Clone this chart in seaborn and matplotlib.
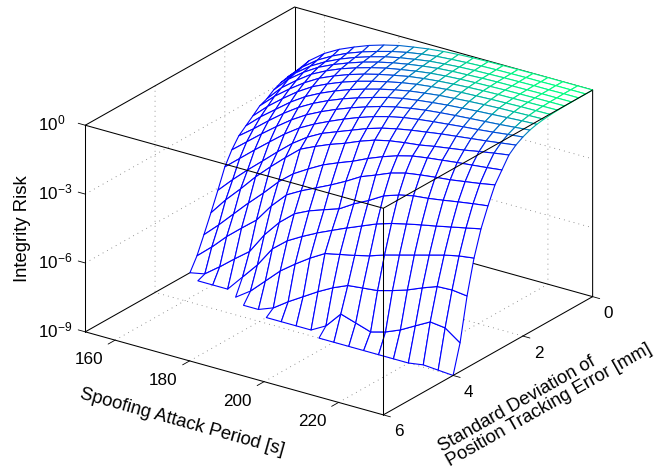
#!/usr/bin/env python3
"""Integrity risk mesh over spoofing attack period and tracking error."""
import matplotlib

matplotlib.use("Agg")
import matplotlib.pyplot as plt
import numpy as np
import seaborn as sns
from mpl_toolkits.mplot3d import proj3d
from mpl_toolkits.mplot3d.art3d import Poly3DCollection

nan = float("nan")

PERIOD = [152, 156, 160, 164, 168, 172, 176, 180, 184, 188, 192, 196, 200, 204, 208, 212, 216, 220, 224, 228, 232]
STD = [0.0, 0.2, 0.4, 0.6, 0.8, 1.0, 1.2, 1.4, 1.6, 1.8, 2.0, 2.2, 2.4, 2.6, 2.8, 3.0, 3.2, 3.4, 3.6, 3.8, 4.0]

# log10 of the integrity risk, one list per standard deviation value
R00 = [-2.84, -2.15, -1.66, -1.3, -1.02, -.77, -.57, -.41, -.3, -.2, -.13, -.08, -.05, -.03, -.02, -.01, -.005, 0, 0, 0, 0]
R02 = [-2.88, -2.26, -1.78, -1.42, -1.12, -.88, -.68, -.5, -.36, -.25, -.17, -.12, -.08, -.05, -.03, -.02, -.01, -.01, 0, 0, 0]
R04 = [-2.96, -2.35, -1.87, -1.5, -1.2, -.95, -.74, -.56, -.42, -.31, -.21, -.15, -.1, -.07, -.05, -.03, -.02, -.01, -.01, 0, 0]
R06 = [-3.1, -2.45, -1.97, -1.57, -1.27, -1.02, -.8, -.62, -.47, -.35, -.25, -.17, -.12, -.09, -.06, -.04, -.03, -.02, -.01, -.01, -.005]
R08 = [-3.32, -2.65, -2.15, -1.7, -1.37, -1.1, -.88, -.69, -.53, -.41, -.3, -.21, -.15, -.11, -.08, -.06, -.04, -.03, -.02, -.015, -.01]
R10 = [-3.45, -2.85, -2.35, -1.9, -1.52, -1.24, -1.0, -.8, -.63, -.49, -.36, -.27, -.2, -.15, -.11, -.08, -.06, -.05, -.04, -.03, -.02]
R12 = [-3.72, -3.12, -2.6, -2.12, -1.72, -1.42, -1.16, -.94, -.76, -.6, -.46, -.35, -.27, -.21, -.16, -.13, -.1, -.08, -.06, -.05, -.04]
R14 = [-3.98, -3.4, -2.9, -2.4, -1.98, -1.65, -1.37, -1.13, -.93, -.75, -.6, -.47, -.38, -.3, -.25, -.2, -.16, -.13, -.11, -.09, -.07]
R16 = [-4.24, -3.75, -3.22, -2.72, -2.28, -1.92, -1.62, -1.36, -1.14, -.94, -.76, -.62, -.52, -.44, -.37, -.32, -.27, -.23, -.19, -.15, -.12]
R18 = [-4.68, -4.15, -3.62, -3.12, -2.65, -2.25, -1.93, -1.65, -1.4, -1.18, -.98, -.82, -.7, -.6, -.53, -.47, -.42, -.37, -.32, -.26, -.2]
R20 = [-5.25, -4.7, -4.15, -3.62, -3.1, -2.65, -2.3, -2.0, -1.72, -1.47, -1.25, -1.07, -.93, -.83, -.75, -.68, -.61, -.55, -.48, -.4, -.33]
R22 = [-6.1, -5.45, -4.85, -4.28, -3.7, -3.15, -2.7, -2.35, -2.1, -1.85, -1.6, -1.4, -1.25, -1.13, -1.03, -.93, -.85, -.77, -.69, -.6, -.51]
R24 = [-6.91, -6.16, -5.5, -4.8, -4.18, -3.6, -3.05, -2.75, -2.48, -2.25, -1.98, -1.75, -1.6, -1.5, -1.42, -1.3, -1.2, -1.1, -.98, -.87, -.77]
R26 = [-7.69, -7.08, -6.42, -5.76, -5.14, -4.48, -3.95, -3.56, -3.2, -2.93, -2.68, -2.38, -2.12, -1.9, -1.73, -1.63, -1.55, -1.47, -1.4, -1.33, -1.25]
R28 = [-8.44, -7.87, -7.23, -6.68, -6.15, -5.35, -4.7, -4.34, -4.03, -3.72, -3.38, -3.0, -2.75, -2.48, -2.3, -2.2, -2.12, -2.05, -1.95, -1.85, -1.73]
R30 = [-9, -8.87, -8.38, -7.85, -7.35, -6.44, -5.72, -5.17, -4.86, -4.63, -4.41, -4.01, -3.68, -3.3, -3.08, -2.94, -2.87, -2.77, -2.66, -2.56, -2.47]
R32 = [nan, -9, -9, -9, -8.29, -7.58, -6.7, -6.17, -5.8, -5.47, -5.18, -4.89, -4.62, -4.35, -4.15, -3.99, -3.85, -3.72, -3.58, -3.44, -3.3]
R34 = [nan, nan, nan, nan, -9, -8.55, -7.93, -7.31, -6.83, -6.39, -6.01, -5.87, -5.73, -5.57, -5.35, -5.17, -4.99, -4.81, -4.63, -4.49, -4.4]
R36 = [nan, nan, nan, nan, nan, -9, -9, -8.75, -8.3, -7.9, -7.5, -7.15, -6.87, -6.8, -6.73, -6.55, -6.34, -6.07, -5.83, -5.8, -5.88]
R38 = [nan, nan, nan, nan, nan, nan, nan, -9, -9, -9, -9, -8.64, -7.94, -8.15, -8.36, -8.18, -7.91, -7.55, -7.2, -7.28, -7.75]
R40 = [nan, nan, nan, nan, nan, nan, nan, nan, nan, nan, nan, -9, -9, -9, -9, -9, -9, -9, -8.9, -8.95, -9]

PERIOD_TICKS = [160, 180, 200, 220]
STD_TICKS = [0, 2, 4, 6]
LOG_RISK_TICKS = [-9, -6, -3, 0]
XLIM = (152, 232)
YLIM = (0, 6)
ZLIM = (-9, 0)


def main() -> None:
    sns.set_theme(style="white")
    plt.rcParams["font.family"] = ["Liberation Sans", "DejaVu Sans"]
    plt.rcParams["mathtext.default"] = "regular"
    winter = sns.color_palette("winter", as_cmap=True)

    log_risk = np.array([R00, R02, R04, R06, R08, R10, R12, R14, R16, R18, R20,
                         R22, R24, R26, R28, R30, R32, R34, R36, R38, R40])

    fig = plt.figure(figsize=(6.67, 4.73), dpi=100)
    # 3D box placed so the projected corners land where the reference has them
    side = 700
    ax = fig.add_axes([-20.5 / 667, -97.4 / 473, side / 667, side / 473],
                      projection="3d", computed_zorder=False)
    ax.set_proj_type("ortho")
    ax.view_init(elev=23.37, azim=-54.92)
    ax.set_box_aspect((1, 1, 0.618), zoom=0.7795)
    ax.set_axis_off()
    ax.set_xlim(*XLIM)
    ax.set_ylim(YLIM[1], YLIM[0])
    ax.set_zlim(*ZLIM)

    def label3d(x, y, z, text, **kw):
        # plain 2D text placed at the projected position of a 3D point
        px, py, _ = proj3d.proj_transform(x, y, z, ax.get_proj())
        ax.text2D(px, py, text, transform=ax.transData, color="black", fontsize=12.3, va="center", **kw)

    x0, x1 = XLIM
    z0, z1 = ZLIM
    grid = dict(color="0.45", lw=0.6, ls=(0, (1, 5)), zorder=1)
    for z in LOG_RISK_TICKS[1:-1]:
        ax.plot([x0, x0, x1], [6, 0, 0], [z, z, z], **grid)
    for x in PERIOD_TICKS:
        ax.plot([x, x, x], [6, 0, 0], [z0, z0, z1], **grid)
    for y in STD_TICKS[1:-1]:
        ax.plot([x0, x0, x1], [y, y, y], [z1, z0, z0], **grid)

    # edges behind the mesh
    back = dict(color="black", lw=0.75, zorder=1.5)
    ax.plot([x0, x0, x1, x1], [6, 0, 0, 0], [z1, z1, z1, z0], **back)
    ax.plot([x0, x0, x1], [6, 0, 0], [z0, z0, z0], **back)
    ax.plot([x0, x0], [0, 0], [z0, z1], **back)
    ax.plot([x0, x0], [6, 6], [z0, z1], **back)

    polys, edges = [], []
    for i in range(len(STD) - 1):
        for j in range(len(PERIOD) - 1):
            cell = log_risk[i:i + 2, j:j + 2]
            if np.isnan(cell).any():
                continue
            polys.append([
                (PERIOD[j], STD[i], cell[0, 0]),
                (PERIOD[j + 1], STD[i], cell[0, 1]),
                (PERIOD[j + 1], STD[i + 1], cell[1, 1]),
                (PERIOD[j], STD[i + 1], cell[1, 0]),
            ])
            edges.append(winter(float(np.mean(10.0 ** cell))))
    mesh = Poly3DCollection(polys, facecolors="white", edgecolors=edges, linewidths=0.8)
    mesh.set_zorder(2)
    ax.add_collection3d(mesh)

    # edges in front of the mesh
    front = dict(color="black", lw=0.75, zorder=3)
    ax.plot([x0, x1, x1], [6, 6, 0], [z1, z1, z1], **front)
    ax.plot([x0, x1, x1], [6, 6, 0], [z0, z0, z0], **front)
    ax.plot([x1, x1], [6, 6], [z0, z1], **front)

    tick = dict(color="black", lw=0.6, zorder=3)
    for x in PERIOD_TICKS:
        ax.plot([x, x], [6, 6.2], [z0, z0], **tick)
        label3d(x - 1.5, 6.6, z0 - 0.4, str(x), ha="center")
    for y in STD_TICKS:
        ax.plot([x1, x1 + 1.9], [y, y], [z0, z0], **tick)
        label3d(x1 + 4.2, y, z0 - 0.55, str(y), ha="center")
    for z in LOG_RISK_TICKS:
        ax.plot([x0, x0 - 1.9], [6, 6], [z, z], **tick)
        label3d(x0 - 12.8, 6, z - 0.5, f"$10^{{{z}}}$", ha="left")

    w, h = 667, 473
    fig.text(23 / w, 1 - 229 / h, "Integrity Risk", rotation=90, fontsize=13.3, ha="center", va="center", color="black")
    fig.text(182 / w, 1 - 422 / h, "Spoofing Attack Period [s]", rotation=-15.6, fontsize=13.3,
             ha="center", va="center", color="black")
    fig.text(545 / w, 1 - 398 / h, "Standard Deviation of\nPosition Tracking Error [mm]", rotation=29.5,
             fontsize=13.3, ha="center", va="center", multialignment="left", linespacing=1.05, color="black")

    fig.savefig("out.png", dpi=100)
    plt.close(fig)


if __name__ == "__main__":
    main()
